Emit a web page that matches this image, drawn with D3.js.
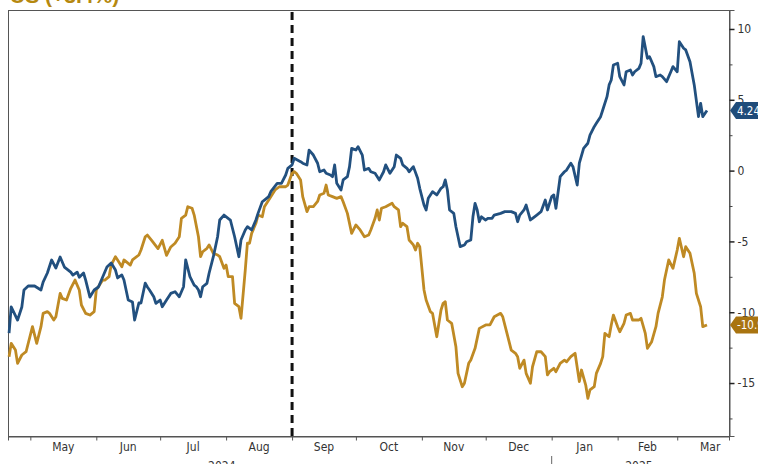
<!DOCTYPE html>
<html>
<head>
<meta charset="utf-8">
<script src="https://cdn.jsdelivr.net/npm/d3@7"></script>
<style>
  body { margin: 0; background: #fff; }
  svg { display: block; }
  .lbl { font-family: "Liberation Sans Narrow", "DejaVu Sans Condensed", "Liberation Sans", Arial, sans-serif; font-stretch: condensed; }
</style>
</head>
<body>
<svg id="chart" width="758" height="464"></svg>
<script>
// ---- data -------------------------------------------------------------
const titleText = "US (+3.4%)";

const navyDates = [
  "2024-04-21","2024-04-22","2024-04-25","2024-04-27","2024-04-28","2024-04-30","2024-05-03","2024-05-06",
  "2024-05-07","2024-05-09","2024-05-11","2024-05-13","2024-05-15","2024-05-17","2024-05-20","2024-05-21",
  "2024-05-23","2024-05-24","2024-05-26","2024-05-27","2024-05-29","2024-05-31","2024-06-02","2024-06-04",
  "2024-06-06","2024-06-08","2024-06-10","2024-06-11","2024-06-13","2024-06-14","2024-06-16","2024-06-18",
  "2024-06-19","2024-06-21","2024-06-22","2024-06-24","2024-06-25","2024-06-26","2024-06-28","2024-06-29",
  "2024-07-01","2024-07-02","2024-07-04","2024-07-06","2024-07-08","2024-07-10","2024-07-12","2024-07-13",
  "2024-07-15","2024-07-17","2024-07-18","2024-07-19","2024-07-20","2024-07-21","2024-07-23","2024-07-24",
  "2024-07-26","2024-07-28","2024-07-29","2024-07-31","2024-08-03","2024-08-05","2024-08-07","2024-08-08",
  "2024-08-10","2024-08-11","2024-08-13","2024-08-15","2024-08-16","2024-08-18","2024-08-19","2024-08-21",
  "2024-08-22","2024-08-25","2024-08-27","2024-08-29","2024-08-30","2024-09-01","2024-09-02","2024-09-05",
  "2024-09-06","2024-09-08","2024-09-09","2024-09-11","2024-09-13","2024-09-14","2024-09-16","2024-09-17",
  "2024-09-19","2024-09-20","2024-09-21","2024-09-22","2024-09-24","2024-09-25","2024-09-27","2024-09-28",
  "2024-09-29","2024-10-01","2024-10-02","2024-10-04","2024-10-05","2024-10-07","2024-10-08","2024-10-10",
  "2024-10-12","2024-10-14","2024-10-15","2024-10-17","2024-10-19","2024-10-20","2024-10-22","2024-10-23",
  "2024-10-25","2024-10-26","2024-10-28","2024-10-30","2024-10-31","2024-11-02","2024-11-03","2024-11-04",
  "2024-11-06","2024-11-08","2024-11-10","2024-11-11","2024-11-12","2024-11-13","2024-11-14","2024-11-16",
  "2024-11-17","2024-11-18","2024-11-19","2024-11-21","2024-11-22","2024-11-24","2024-11-25","2024-11-26",
  "2024-11-27","2024-11-28","2024-11-29","2024-12-01","2024-12-02","2024-12-04","2024-12-05","2024-12-08",
  "2024-12-10","2024-12-13","2024-12-15","2024-12-16","2024-12-17","2024-12-19","2024-12-20","2024-12-22",
  "2024-12-23","2024-12-25","2024-12-27","2024-12-29","2024-12-30","2025-01-01","2025-01-02","2025-01-03",
  "2025-01-05","2025-01-07","2025-01-08","2025-01-10","2025-01-11","2025-01-13","2025-01-14","2025-01-16",
  "2025-01-18","2025-01-19","2025-01-21","2025-01-22","2025-01-24","2025-01-25","2025-01-27","2025-01-28",
  "2025-01-29","2025-01-30","2025-02-01","2025-02-02","2025-02-04","2025-02-05","2025-02-07","2025-02-08",
  "2025-02-09","2025-02-11","2025-02-12","2025-02-13","2025-02-15","2025-02-16","2025-02-18","2025-02-19",
  "2025-02-21","2025-02-22","2025-02-24","2025-02-26","2025-02-27","2025-03-01","2025-03-02","2025-03-04",
  "2025-03-05","2025-03-07","2025-03-09","2025-03-11","2025-03-12","2025-03-13","2025-03-15"
];
const navyValues = [
  -11.47,-9.63,-10.55,-9.63,-8.43,-8.15,-8.15,-8.43,
  -7.87,-7.23,-6.31,-6.88,-6.10,-6.81,-7.17,-7.38,
  -7.17,-7.53,-7.23,-7.74,-8.93,-8.43,-8.22,-7.51,
  -6.81,-6.52,-7.02,-7.58,-7.37,-7.73,-9.14,-9.28,
  -10.55,-9.35,-9.35,-7.94,-8.22,-8.43,-8.91,-9.37,
  -9.14,-9.61,-9.14,-8.67,-8.55,-8.91,-8.20,-6.31,
  -7.49,-8.08,-8.20,-8.43,-8.91,-8.20,-7.96,-7.25,
  -6.08,-4.67,-3.49,-3.14,-3.49,-4.67,-6.08,-4.90,
  -4.19,-3.96,-4.19,-3.49,-3.02,-2.20,-2.08,-1.84,
  -1.49,-0.90,-0.90,-0.31,0.16,0.40,0.87,0.63,
  0.52,0.40,1.45,1.10,0.52,-0.08,0.04,-0.19,
  -0.31,-0.43,0.40,-0.90,-1.37,-0.66,-0.43,0.28,
  1.57,1.45,1.69,1.10,0.04,0.16,-0.08,-0.19,
  -0.66,-0.08,0.40,-0.19,0.28,1.10,0.87,0.40,
  0.16,-0.08,0.28,-0.54,-1.25,-2.43,-2.78,-1.96,
  -1.49,-1.72,-1.25,-1.14,-0.66,-1.37,-2.78,-3.02,
  -3.96,-4.67,-5.37,-5.25,-5.02,-4.90,-3.26,-2.31,
  -2.78,-3.61,-3.26,-3.49,-3.37,-3.37,-3.14,-3.02,
  -2.90,-2.90,-3.02,-3.61,-3.14,-2.78,-2.43,-3.49,
  -3.37,-3.14,-2.90,-2.08,-2.78,-1.84,-1.72,-2.66,
  -0.43,-0.08,0.04,0.52,0.28,-1.02,0.52,1.57,
  1.93,2.51,3.10,3.34,3.81,4.28,5.22,6.05,
  6.40,7.46,7.58,6.63,6.05,6.98,7.10,6.75,
  6.98,7.22,7.58,9.46,7.93,8.04,7.34,6.63,
  6.75,6.63,6.28,6.98,7.34,6.98,9.10,8.64,
  8.52,7.69,6.05,3.81,4.75,3.81,4.24
];

const goldDates = [
  "2024-04-21","2024-04-22","2024-04-24","2024-04-25","2024-04-27","2024-04-29","2024-05-02","2024-05-04",
  "2024-05-06","2024-05-07","2024-05-09","2024-05-10","2024-05-12","2024-05-13","2024-05-15","2024-05-16",
  "2024-05-18","2024-05-20","2024-05-22","2024-05-24","2024-05-25","2024-05-27","2024-05-29","2024-05-31",
  "2024-06-01","2024-06-04","2024-06-05","2024-06-07","2024-06-08","2024-06-10","2024-06-11","2024-06-13",
  "2024-06-14","2024-06-17","2024-06-18","2024-06-21","2024-06-22","2024-06-24","2024-06-25","2024-06-27",
  "2024-06-30","2024-07-02","2024-07-04","2024-07-06","2024-07-08","2024-07-10","2024-07-11","2024-07-13",
  "2024-07-14","2024-07-16","2024-07-17","2024-07-19","2024-07-20","2024-07-21","2024-07-23","2024-07-24",
  "2024-07-26","2024-07-28","2024-07-29","2024-07-31","2024-08-01","2024-08-02","2024-08-04","2024-08-05",
  "2024-08-07","2024-08-08","2024-08-10","2024-08-11","2024-08-12","2024-08-13","2024-08-15","2024-08-16",
  "2024-08-18","2024-08-19","2024-08-22","2024-08-24","2024-08-26","2024-08-29","2024-08-30","2024-09-01",
  "2024-09-02","2024-09-03","2024-09-05","2024-09-06","2024-09-08","2024-09-09","2024-09-11","2024-09-13",
  "2024-09-14","2024-09-16","2024-09-17","2024-09-18","2024-09-20","2024-09-22","2024-09-24","2024-09-25",
  "2024-09-27","2024-09-29","2024-10-01","2024-10-03","2024-10-05","2024-10-07","2024-10-08","2024-10-10",
  "2024-10-11","2024-10-12","2024-10-13","2024-10-15","2024-10-18","2024-10-19","2024-10-21","2024-10-22",
  "2024-10-23","2024-10-25","2024-10-26","2024-10-28","2024-10-29","2024-10-30","2024-10-31","2024-11-02",
  "2024-11-03","2024-11-05","2024-11-06","2024-11-08","2024-11-10","2024-11-11","2024-11-12","2024-11-13",
  "2024-11-15","2024-11-17","2024-11-18","2024-11-20","2024-11-21","2024-11-23","2024-11-24","2024-11-26",
  "2024-11-28","2024-12-01","2024-12-03","2024-12-05","2024-12-08","2024-12-09","2024-12-11","2024-12-13",
  "2024-12-15","2024-12-16","2024-12-17","2024-12-19","2024-12-20","2024-12-22","2024-12-23","2024-12-25",
  "2024-12-27","2024-12-29","2024-12-30","2024-12-31","2025-01-02","2025-01-03","2025-01-05","2025-01-07",
  "2025-01-08","2025-01-10","2025-01-12","2025-01-14","2025-01-15","2025-01-17","2025-01-18","2025-01-19",
  "2025-01-21","2025-01-22","2025-01-24","2025-01-25","2025-01-26","2025-01-28","2025-01-29","2025-01-30",
  "2025-02-01","2025-02-02","2025-02-04","2025-02-05","2025-02-07","2025-02-08","2025-02-11","2025-02-12",
  "2025-02-14","2025-02-15","2025-02-17","2025-02-19","2025-02-20","2025-02-22","2025-02-23","2025-02-25",
  "2025-02-27","2025-03-01","2025-03-02","2025-03-04","2025-03-05","2025-03-07","2025-03-09","2025-03-10",
  "2025-03-12","2025-03-13","2025-03-15"
];
const goldValues = [
  -13.14,-12.20,-12.67,-13.61,-13.02,-12.79,-11.02,-12.20,
  -11.02,-10.08,-9.96,-10.08,-10.55,-10.32,-8.67,-9.02,
  -9.14,-8.31,-7.73,-8.43,-9.49,-10.08,-10.20,-9.96,
  -8.43,-7.73,-7.73,-7.49,-6.67,-6.08,-6.31,-6.79,
  -6.31,-6.67,-6.31,-5.96,-5.61,-4.67,-4.55,-4.92,
  -5.51,-4.92,-5.98,-5.39,-5.13,-4.67,-3.37,-3.14,
  -2.55,-2.66,-3.14,-4.67,-6.08,-5.73,-5.49,-5.25,
  -5.84,-5.96,-6.08,-6.90,-6.67,-7.49,-7.49,-9.37,
  -9.61,-10.43,-7.02,-5.13,-5.13,-4.43,-3.72,-3.14,
  -3.26,-2.55,-1.84,-1.37,-1.14,-1.14,-1.02,-0.19,
  -0.08,-0.19,-0.66,-1.84,-2.90,-2.55,-2.55,-2.18,
  -1.72,-1.60,-1.02,-1.72,-1.84,-1.96,-1.84,-2.20,
  -3.02,-4.43,-3.84,-4.19,-4.67,-4.55,-4.19,-3.37,
  -2.78,-3.49,-2.66,-2.55,-2.31,-2.55,-2.78,-3.96,
  -3.72,-3.96,-4.90,-5.25,-5.61,-5.13,-5.37,-8.43,
  -9.14,-9.96,-10.08,-11.73,-9.84,-9.37,-9.26,-10.55,
  -10.78,-12.44,-14.32,-15.26,-15.02,-13.61,-13.38,-12.55,
  -11.14,-10.90,-10.90,-10.32,-10.08,-10.32,-11.49,-12.67,
  -12.90,-13.14,-13.96,-13.38,-14.32,-15.02,-13.85,-12.79,
  -12.79,-13.14,-14.43,-14.20,-13.96,-14.20,-13.61,-13.38,
  -13.50,-13.14,-12.90,-14.90,-14.08,-15.14,-16.08,-15.49,
  -15.26,-14.32,-13.61,-13.14,-11.49,-11.73,-10.90,-10.20,
  -11.02,-11.38,-10.78,-10.20,-10.08,-10.55,-10.55,-10.43,
  -11.49,-12.55,-12.08,-11.02,-10.08,-8.91,-7.73,-6.31,
  -6.90,-5.61,-4.78,-6.08,-5.37,-5.84,-7.25,-8.67,
  -9.61,-11.02,-10.90
];

const yMajorTicks = [10, 5, 0, -5, -10, -15];
const yMinorTicks = [7.5, 2.5, -2.5, -7.5, -12.5, -17.5];
const monthLabels = ["May","Jun","Jul","Aug","Sep","Oct","Nov","Dec","Jan","Feb","Mar"];
const yearLabels = [
  { text: "2024", at: "2024-07-30" },
  { text: "2025", at: "2025-02-11" }
];
const markerDate = "2024-09-01";

// ---- setup ------------------------------------------------------------
const parse = d3.timeParse("%Y-%m-%d");
const navy = navyDates.map((d, i) => ({ date: parse(d), value: navyValues[i] }));
const gold = goldDates.map((d, i) => ({ date: parse(d), value: goldValues[i] }));

const NAVY = "#22507f";
const GOLD = "#bf8a24";

const box = { left: 8, top: 10, right: 729, bottom: 436 };
const svg = d3.select("#chart");
svg.append("rect").attr("width", 758).attr("height", 464).attr("fill", "#fff");

const x = d3.scaleTime()
  .domain([new Date(2024, 3, 20, 12), new Date(2025, 2, 25, 8)])
  .range([box.left, box.right]);
const y = d3.scaleLinear()
  .domain([-18.74, 11.34])
  .range([box.bottom, box.top]);

// title (sits mostly above the visible area)
svg.append("text")
  .attr("x", 10).attr("y", 3)
  .attr("fill", "#b5880f")
  .attr("font-family", "'Liberation Sans', Arial, sans-serif")
  .attr("font-weight", "bold")
  .attr("font-size", 21)
  .text(titleText);

// plot frame
svg.append("rect")
  .attr("x", box.left + 0.5).attr("y", box.top + 0.5)
  .attr("width", box.right - box.left).attr("height", box.bottom - box.top)
  .attr("fill", "none").attr("stroke", "#555").attr("stroke-width", 1);

// vertical dashed marker
svg.append("line")
  .attr("x1", x(parse(markerDate))).attr("x2", x(parse(markerDate)))
  .attr("y1", box.top + 2).attr("y2", box.bottom)
  .attr("stroke", "#111").attr("stroke-width", 3)
  .attr("stroke-dasharray", "8,5");

// series lines
const line = d3.line().x(d => x(d.date)).y(d => y(d.value));
svg.append("path").datum(gold)
  .attr("d", line).attr("fill", "none").attr("stroke", GOLD)
  .attr("stroke-width", 2.8).attr("stroke-linejoin", "round");
svg.append("path").datum(navy)
  .attr("d", line).attr("fill", "none").attr("stroke", NAVY)
  .attr("stroke-width", 2.8).attr("stroke-linejoin", "round");

// right value axis
const yAxis = svg.append("g")
  .attr("transform", `translate(${box.right + 0.5},0)`)
  .call(d3.axisRight(y).tickValues(yMajorTicks).tickSize(5).tickPadding(3)
    .tickFormat(d => String(d)));
yAxis.select(".domain").attr("stroke", "#555");
yAxis.selectAll(".tick line").attr("stroke", "#222").attr("stroke-width", 1.5);
yAxis.selectAll("text").attr("class", "lbl").attr("font-size", 12).attr("fill", "#333");

const yMinor = svg.append("g")
  .attr("transform", `translate(${box.right + 0.5},0)`)
  .call(d3.axisRight(y).tickValues(yMinorTicks).tickSize(3).tickFormat(""));
yMinor.select(".domain").remove();
yMinor.selectAll(".tick line").attr("stroke", "#444");

// bottom month axis
const months = d3.timeMonth.range(new Date(2024, 4, 1), new Date(2025, 3, 1));
const xAxis = svg.append("g")
  .attr("transform", `translate(0,${box.bottom + 0.5})`)
  .call(d3.axisBottom(x).tickValues(months).tickSize(4).tickFormat(""));
xAxis.select(".domain").attr("stroke", "#555");
xAxis.selectAll(".tick line").attr("stroke", "#555");

svg.append("g").selectAll("text")
  .data(monthLabels)
  .join("text")
  .attr("class", "lbl")
  .attr("x", (d, i) => (x(months[i]) + x(d3.timeMonth.offset(months[i], 1))) / 2)
  .attr("y", 451)
  .attr("text-anchor", "middle")
  .attr("font-size", 12)
  .attr("fill", "#333")
  .text(d => d);

// year separator and labels
svg.append("line")
  .attr("x1", x(new Date(2025, 0, 1))).attr("x2", x(new Date(2025, 0, 1)))
  .attr("y1", 456).attr("y2", 464)
  .attr("stroke", "#666").attr("stroke-width", 1);
svg.append("g").selectAll("text")
  .data(yearLabels)
  .join("text")
  .attr("class", "lbl")
  .attr("x", d => x(parse(d.at)))
  .attr("y", 470)
  .attr("text-anchor", "middle")
  .attr("font-size", 12)
  .attr("fill", "#333")
  .text(d => d.text);

// last-value tags
function tag(series, color) {
  const last = series[series.length - 1];
  const g = svg.append("g").attr("transform", `translate(${box.right + 1},${y(last.value)})`);
  g.append("path").attr("d", "M0,0 L6,-8.5 H48 V8.5 H6 Z").attr("fill", color);
  g.append("text")
    .attr("class", "lbl")
    .attr("x", 7).attr("y", 4)
    .attr("font-size", 11.5).attr("fill", "#fff")
    .text(last.value.toFixed(2));
}
tag(navy, "#1f4c7a");
tag(gold, "#a97410");
</script>
</body>
</html>
